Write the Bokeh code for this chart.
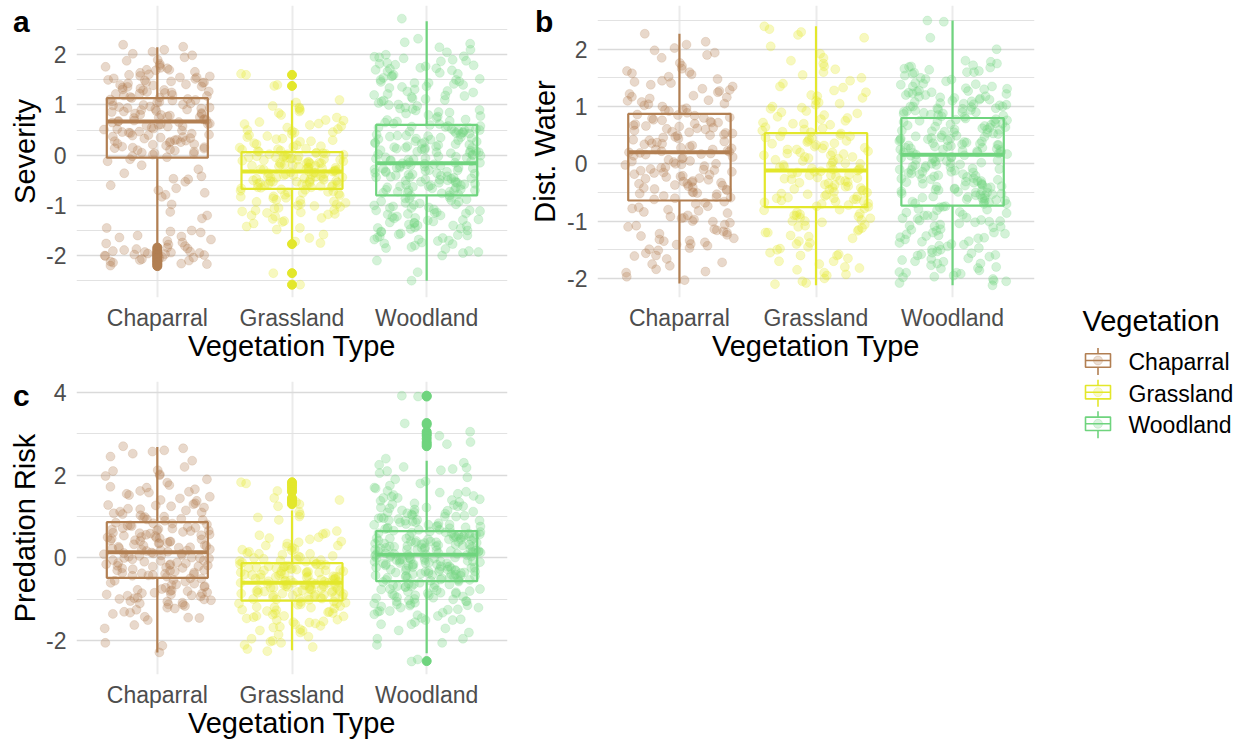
import numpy as np
from bokeh.plotting import figure
from bokeh.layouts import row, column
from bokeh.models import Range1d, FixedTicker, Label, Spacer, ColumnDataSource, Div
from bokeh.core.properties import value
from bokeh.embed import file_html
from bokeh.resources import INLINE

FONT = "Liberation Sans"
categories = ["Chaparral", "Grassland", "Woodland"]
colors = ["#B27F52", "#E3E72B", "#6FD47E"]
x_title = "Vegetation Type"
legend_title = "Vegetation"
panel_tags = ["a", "b", "c"]
y_titles = ["Severity", "Dist. Water", "Predation Risk"]

# ---------------- panel a: Severity ----------------
sev_chap = [2.2, 2.16, 2.1, 2.06, 2.02, 1.99, 1.95, 1.9, 1.82, 1.79, 1.76, 1.73, 1.7, 1.7, 1.66, 1.64, 1.61, 1.6, 1.57, 1.55,
            1.55, 1.52, 1.5, 1.47, 1.45, 1.43, 1.41, 1.4, 1.37, 1.35, 1.33, 1.3, 1.29, 1.26, 1.24, 1.22, 1.2, 1.18, 1.16, 1.14,
            1.12, 1.1, 1.09, 1.07, 1.05, 1.03, 1.01, 0.99, 0.97, 0.95, 0.93, 0.92, 0.9, 0.88, 0.86, 0.84, 0.83, 0.81, 0.79, 0.77,
            0.75, 0.74, 0.72, 0.7, 0.68, 0.66, 0.65, 0.63, 0.61, 0.59, 0.57, 0.55, 0.53, 0.51, 0.49, 0.47, 0.45, 0.43, 0.41, 0.39,
            0.37, 0.35, 0.33, 0.31, 0.29, 0.27, 0.25, 0.23, 0.21, 0.19, 0.17, 0.15, 0.13, 0.11, 0.09, 0.07, 0.05, 0.03, 0.01, -0.02,
            -0.04, -0.12, -0.2, -0.28, -0.36, -0.42, -0.47, -0.53, -0.6, -0.66, -0.75, -0.79, -0.83, -0.98, -1.13, -1.2, -1.26, -1.45,
            -1.5, -1.54, -1.6, -1.64, -1.68, -1.71, -1.74, -1.78, -1.81, -1.84, -1.87, -1.89, -1.91, -1.93, -1.95, -1.96, -1.98, -2.0,
            -2.01, -2.03, -2.05, -2.07, -2.09, -2.12, -2.14, -2.17, -2.2,
            1.88, 1.74, 1.69, 1.58, 1.53, 1.49, 1.44, 1.39, 1.36, 1.31, 1.27, 1.23, 1.19, 1.15, 1.11, 1.06, 1.0, 0.96, 0.91, 0.87,
            0.8, 0.76, 0.71, 0.67, 0.62, 0.58, 0.52, 0.46, 0.4, 0.34, 0.28, 0.22, 0.16, 0.1, 0.04, 0.94, 0.69, 0.44, 0.36, 0.3,
            -0.08, -0.48, -0.7, -1.52, -1.62, -1.76, -1.86, -1.94, -1.99, -2.04, -2.1, -2.16, -1.92, -1.97, 1.45, 1.25, 0.6, 0.82,
            0.26, 0.14]
sev_grass = [1.62, 1.6, 1.4, 1.38, 1.1, 1.05, 0.95, 0.93, 0.9, 0.87, 0.84, 0.75, 0.7, 0.66, 0.63, 0.6, 0.58, 0.55, 0.52, 0.48,
             0.45, 0.42, 0.4, 0.36, 0.33, 0.3, 0.27, 0.24, 0.2, 0.18, 0.15, 0.13, 0.11, 0.09, 0.07,
             0.05, 0.04, 0.03, 0.02, 0.0, -0.01, -0.03, -0.04, -0.06, -0.07, -0.09, -0.1, -0.12, -0.13, -0.15, -0.16, -0.18, -0.19,
             -0.21, -0.22, -0.24, -0.25, -0.27, -0.28, -0.3, -0.31, -0.33, -0.34, -0.36, -0.37, -0.39, -0.4, -0.42, -0.43, -0.45,
             -0.46, -0.48, -0.49, -0.51, -0.52, -0.54, -0.55, -0.57, -0.58, -0.6, -0.61, -0.63, -0.64, -0.66, 0.01, -0.08, -0.2,
             -0.32, -0.44, -0.53, -0.62, -0.26, -0.5, -0.14, -0.38,
             -0.69, -0.71, -0.74, -0.77, -0.8, -0.83, -0.86, -0.89, -0.92, -0.95, -0.98, -1.0, -1.03, -1.06, -1.09, -1.12, -1.15,
             -1.18, -1.22, -1.27, -1.31, -1.36, -1.42, -1.48, -1.58, -1.65, -1.72, -1.75, -2.35, -2.58, -0.75, -0.9, -1.05, -1.2,
             0.98, 0.8, 0.62, 0.5, 0.38, 0.28, 0.22, 0.17, 0.12, 0.08, 0.04, 0.02, -0.02, -0.05, -0.11, -0.17, -0.23, -0.29,
             -0.35, -0.41, -0.47, -0.53, -0.59, -0.65, -0.04, -0.16, -0.28, -0.4, -0.52, -0.64, -0.09, -0.21, -0.33, -0.45,
             -0.57, -0.68, -0.72, -0.79, -0.85, -0.93, -1.01, -1.1, -1.17, -1.25, -1.33, -1.45, -0.73, -0.82, -0.97, -1.14,
             -0.02, 0.32, 0.46, 0.69, -0.6, -0.35, -0.15, -0.55, -0.25, -0.45]
sev_wood = [2.72, 2.32, 2.25, 2.22, 2.15, 2.1, 2.05, 2.0, 1.97, 1.95, 1.93, 1.9, 1.87, 1.84, 1.82, 1.8, 1.77, 1.74, 1.72, 1.7,
            1.67, 1.64, 1.62, 1.6, 1.57, 1.54, 1.52, 1.5, 1.47, 1.44, 1.42, 1.4, 1.37, 1.34, 1.31, 1.28, 1.25, 1.22, 1.19, 1.16,
            1.13, 1.1, 1.07, 1.04, 1.01, 0.98, 0.95, 0.92, 0.89, 0.86, 0.83, 0.8, 0.77, 0.74, 0.71, 0.68, 0.65, 0.62,
            0.6, 0.58, 0.57, 0.55, 0.54, 0.52, 0.5, 0.49, 0.47, 0.46, 0.44, 0.42, 0.41, 0.39, 0.38, 0.36, 0.34, 0.33, 0.31, 0.3,
            0.28, 0.26, 0.25, 0.23, 0.22, 0.2, 0.18, 0.17, 0.15, 0.14, 0.12, 0.1, 0.09, 0.07, 0.06, 0.04, 0.02, 0.01, -0.01, -0.02,
            -0.04, -0.06, -0.07, -0.09, -0.1, -0.12, -0.14, -0.15, -0.17, -0.18, -0.2, -0.22, -0.23, -0.25, -0.26, -0.28, -0.3,
            -0.31, -0.33, -0.34, -0.36, -0.38, -0.39, -0.41, -0.42, -0.44, -0.46, -0.47, -0.49, -0.5, -0.52, -0.54, -0.55, -0.57,
            -0.58, -0.6, -0.62, -0.63, -0.65, -0.66, -0.68, -0.7, -0.71, -0.73, -0.74, -0.76, -0.78, 0.35, 0.05, -0.25, -0.55,
            0.45, -0.15, -0.45, 0.15, -0.35,
            -0.81, -0.84, -0.87, -0.9, -0.93, -0.96, -0.99, -1.02, -1.05, -1.08, -1.11, -1.14, -1.17, -1.2, -1.23, -1.26, -1.29,
            -1.32, -1.35, -1.38, -1.41, -1.44, -1.47, -1.5, -1.53, -1.56, -1.59, -1.62, -1.65, -1.68, -1.71, -1.74, -1.77, -1.8,
            -1.83, -1.87, -1.91, -1.95, -2.0, -2.1, -2.33, -2.5, -0.95, -1.1, -1.25, -1.4, -1.0, -1.15, -1.3, -1.45, -0.88, -1.6,
            1.96, 1.88, 1.79, 1.69, 1.58, 1.46, 1.36, 1.27, 1.18, 1.09, 1.0, 0.93, 0.85, 0.78, 0.7, 0.63, 0.56, 0.5, 0.43, 0.37,
            0.32, 0.27, 0.21, 0.16, 0.11, 0.06, 0.0, -0.05, -0.11, -0.16, -0.21, -0.27, -0.32, -0.37, -0.43, -0.48, -0.53, -0.59,
            -0.64, -0.69, -0.75, -0.8, -0.86, -0.92, -0.98, -1.04, -1.1, -1.16, -1.22, -1.28, -1.34, -1.4, -1.46, -1.52, -1.58,
            -1.64, -1.7, -1.76, -1.85, -1.93, 0.24, 0.13, -0.08, -0.19, -0.4, -0.51, 0.48, 0.52, -0.6, -0.7, 0.9, 1.2, 1.5,
            -1.35, -1.05, 0.67, -0.25, -0.44, 0.08, -0.62, 1.73, 1.44, -1.68, -1.18, 0.39, -0.03, -0.3, -0.73, 0.58, 1.12]
sev_q1 = [-0.05, -0.67, -0.80]
sev_med = [0.67, -0.325, -0.16]
sev_q3 = [1.135, 0.06, 0.605]
sev_lo = [-1.80, -1.72, -2.50]
sev_hi = [2.15, 1.09, 2.67]
sev_out_chap = [-1.84, -1.88, -1.92, -1.95, -1.98, -2.0, -2.03, -2.06, -2.09, -2.12, -2.15, -2.18, -2.21]
sev_out_grass = [1.6, 1.38, -1.77, -2.35, -2.58]
sev_out_wood = []

# ---------------- panel b: Dist. Water ----------------
dw_chap = [2.27, 2.13, 2.08, 2.02, 1.98, 1.94, 1.9, 1.76, 1.71, 1.66, 1.62, 1.6, 1.56, 1.52, 1.48, 1.45, 1.41, 1.38, 1.35,
           1.31, 1.27, 1.25, 1.22, 1.19, 1.16, 1.14, 1.11, 1.08, 1.05, 1.02, 1.0, 0.97, 0.94, 0.92, 0.89,
           0.86, 0.84, 0.81, 0.79, 0.77, 0.74, 0.72, 0.7, 0.67, 0.65, 0.63, 0.6, 0.58, 0.56, 0.53, 0.51, 0.49, 0.46, 0.44, 0.42,
           0.39, 0.37, 0.35, 0.32, 0.3, 0.28, 0.25, 0.23, 0.21, 0.19, 0.17, 0.14, 0.12, 0.1, 0.07, 0.05, 0.03, 0.0, -0.02, -0.04,
           -0.07, -0.09, -0.11, -0.14, -0.16, -0.18, -0.21, -0.23, -0.25, -0.28, -0.3, -0.32, -0.35, -0.37, -0.39, -0.42, -0.44,
           -0.46, -0.49, -0.51, -0.53, -0.56, -0.58, -0.6, -0.62, 0.55, 0.2, -0.15, -0.33, 0.66,
           -0.66, -0.7, -0.74, -0.78, -0.82, -0.86, -0.9, -0.94, -0.97, -1.0, -1.03, -1.06, -1.1, -1.14, -1.18, -1.22, -1.26,
           -1.3, -1.34, -1.37, -1.4, -1.43, -1.47, -1.51, -1.56, -1.61, -1.66, -1.72, -1.78, -1.84, -1.9, -1.97, -2.03, -0.95, -1.35,
           1.85, 1.58, 1.43, 1.29, 1.17, 1.04, 0.95, 0.85, 0.76, 0.69, 0.61, 0.54, 0.47, 0.41, 0.34, 0.27, 0.22, 0.16, 0.09,
           0.04, -0.01, -0.06, -0.12, -0.19, -0.26, -0.31, -0.38, -0.45, -0.52, -0.59, -0.68, -0.76, -0.84, -0.92, -1.01, -1.08,
           -1.16, -1.24, -1.32, -1.41, -1.49, -1.6, -1.75, -1.88, 0.62, 0.36, 0.18, -0.22, -0.41, 0.8, 1.1, 0.5, -0.5, -1.2,
           0.0, 0.72, -0.1, 0.25, -0.35, -0.8]
dw_grass = [2.4, 2.35, 2.3, 2.25, 2.2, 1.92, 1.85, 1.75, 1.7, 1.6, 1.55, 1.5, 1.45, 1.4, 1.33, 1.28, 1.25, 1.2, 1.15, 1.1,
            1.07, 1.03, 1.0, 0.96, 0.92, 0.88, 0.85, 0.82, 0.78, 0.75, 0.72, 0.68, 0.64, 0.6, 0.56,
            0.53, 0.5, 0.48, 0.45, 0.43, 0.4, 0.38, 0.35, 0.33, 0.3, 0.28, 0.25, 0.22, 0.2, 0.17, 0.15, 0.12, 0.1, 0.07, 0.05,
            0.02, 0.0, -0.03, -0.05, -0.08, -0.1, -0.12, -0.14, -0.17, -0.19, -0.22, -0.24, -0.27, -0.29, -0.32, -0.34, -0.37,
            -0.39, -0.42, -0.44, -0.47, -0.49, -0.52, -0.54, -0.57, -0.59, -0.62, -0.64, -0.67, -0.69, -0.72, -0.74, -0.1, -0.5,
            0.25, -0.3, 0.4, -0.6, 0.05, -0.2, -0.45, 0.15, -0.08, -0.65,
            -0.78, -0.81, -0.85, -0.88, -0.92, -0.95, -0.98, -1.02, -1.06, -1.1, -1.15, -1.2, -1.25, -1.3, -1.35, -1.4, -1.45,
            -1.5, -1.55, -1.6, -1.65, -1.7, -1.75, -1.8, -1.85, -1.9, -1.95, -2.0, -2.05, -2.1, -0.9, -1.0, -1.2,
            2.05, 1.8, 1.65, 1.35, 1.18, 0.98, 0.9, 0.8, 0.7, 0.62, 0.55, 0.46, 0.36, 0.27, 0.18, 0.09, 0.01, -0.06, -0.13,
            -0.2, -0.26, -0.33, -0.4, -0.46, -0.53, -0.6, -0.66, -0.7, -0.8, -0.87, -0.94, -1.0, -1.08, -1.17, -1.27, -1.38,
            -1.48, -1.58, -1.7, -1.82, -1.93, -2.08, 0.32, 0.12, -0.15, -0.36, -0.56, 0.48, 0.2, -0.25, -0.75, -1.12, 1.05,
            0.7, -0.02, -0.42, -0.9, -1.6, 0.58, -0.62]
dw_wood = [2.5, 2.48, 2.2, 2.0, 1.8, 1.75, 1.72, 1.7, 1.68, 1.66, 1.64, 1.62, 1.6, 1.57, 1.54, 1.5, 1.47, 1.44, 1.41, 1.38,
           1.35, 1.32, 1.3, 1.28, 1.26, 1.24, 1.22, 1.2, 1.18, 1.16, 1.14, 1.12, 1.1, 1.08, 1.06, 1.04, 1.02, 1.0, 0.99, 0.97,
           0.95, 0.94, 0.92, 0.91, 0.89, 0.88, 0.86, 0.85, 0.83, 0.82, 1.25, 1.15, 1.05, 0.96, 1.35, 0.9, 1.0,
           0.79, 0.77, 0.76, 0.74, 0.73, 0.71, 0.7, 0.68, 0.66, 0.65, 0.63, 0.62, 0.6, 0.58, 0.57, 0.55, 0.54, 0.52, 0.5, 0.49,
           0.47, 0.46, 0.44, 0.42, 0.41, 0.39, 0.38, 0.36, 0.34, 0.33, 0.31, 0.3, 0.28, 0.26, 0.25, 0.23, 0.22, 0.2, 0.18, 0.17,
           0.15, 0.14, 0.12, 0.1, 0.09, 0.07, 0.06, 0.04, 0.02, 0.01, -0.01, -0.02, -0.04, -0.06, -0.07, -0.09, -0.1, -0.12,
           -0.14, -0.15, -0.17, -0.18, -0.2, -0.22, -0.23, -0.25, -0.26, -0.28, -0.3, -0.31, -0.33, -0.34, -0.36, -0.38, -0.39,
           -0.41, -0.42, -0.44, -0.46, -0.47, -0.49, -0.5, -0.52, -0.54, -0.55, -0.57, -0.58, -0.6, -0.62, -0.63, -0.65, -0.66,
           -0.68, -0.7, 0.35, 0.45, 0.25, -0.4, -0.5, 0.3, 0.2, -0.55,
           -0.74, -0.76, -0.79, -0.81, -0.84, -0.86, -0.89, -0.91, -0.94, -0.96, -0.99, -1.01, -1.04, -1.06, -1.09, -1.11,
           -1.14, -1.17, -1.2, -1.23, -1.26, -1.29, -1.32, -1.35, -1.38, -1.41, -1.44, -1.47, -1.5, -1.53, -1.56, -1.59, -1.62,
           -1.65, -1.68, -1.71, -1.74, -1.77, -1.8, -1.83, -1.86, -1.89, -1.92, -1.95, -1.98, -2.01, -2.04, -2.08, -2.12, -1.0,
           -1.3, -1.6, -1.9, -0.9, -1.2,
           1.78, 1.69, 1.59, 1.48, 1.39, 1.31, 1.23, 1.17, 1.09, 1.03, 0.97, 0.93, 0.87, 0.84, 0.78, 0.75, 0.69, 0.64, 0.59,
           0.53, 0.48, 0.43, 0.37, 0.32, 0.27, 0.21, 0.16, 0.11, 0.05, 0.0, -0.05, -0.11, -0.16, -0.21, -0.27, -0.32, -0.37,
           -0.43, -0.48, -0.53, -0.59, -0.64, -0.69, -0.75, -0.8, -0.85, -0.9, -0.95, -1.02, -1.08, -1.15, -1.22, -1.28, -1.36,
           -1.43, -1.5, -1.58, -1.66, -1.74, -1.82, -1.9, -1.97, -2.05, 0.4, 0.28, 0.12, -0.02, -0.14, -0.26, -0.45, 1.0, 1.2,
           0.9, 0.6, 0.56, 0.19, -0.35, -0.6, -0.7, 1.4, 1.6, -1.4, -1.7, -1.25, 0.24, 0.44, -0.18, -0.52, 0.74, 0.08, 1.27,
           -0.66, -1.1, -1.55, 0.33, -0.08, 0.67, -0.3, 1.12, -0.98]
dw_q1 = [-0.64, -0.757, -0.73]
dw_med = [0.20, -0.117, 0.16]
dw_q3 = [0.87, 0.535, 0.80]
dw_lo = [-2.09, -2.12, -2.12]
dw_hi = [2.27, 2.40, 2.50]
dw_out_chap = []
dw_out_grass = []
dw_out_wood = []

# ---------------- panel c: Predation Risk ----------------
pr_chap = [2.7, 2.65, 2.6, 2.57, 2.52, 2.35, 2.2, 2.12, 2.02, 2.0, 1.98, 1.82, 1.76, 1.7, 1.66, 1.62, 1.58, 1.52, 1.48, 1.44,
           1.38, 1.32, 1.28, 1.25, 1.22, 1.19, 1.15, 1.12, 1.1, 1.06, 1.03, 1.0, 0.97, 0.93, 0.9,
           0.85, 0.83, 0.81, 0.79, 0.77, 0.75, 0.73, 0.71, 0.69, 0.67, 0.65, 0.63, 0.61, 0.59, 0.57, 0.55, 0.53, 0.51, 0.49,
           0.47, 0.45, 0.43, 0.41, 0.39, 0.37, 0.35, 0.33, 0.31, 0.29, 0.27, 0.25, 0.23, 0.21, 0.19, 0.17, 0.15, 0.13, 0.11,
           0.09, 0.07, 0.05, 0.03, 0.01, -0.01, -0.03, -0.05, -0.07, -0.09, -0.11, -0.13, -0.15, -0.17, -0.19, -0.21, -0.23,
           -0.25, -0.27, -0.29, -0.31, -0.33, -0.35, -0.37, -0.39, -0.41, -0.43, -0.45, 0.5, 0.2, -0.2, 0.0,
           -0.5, -0.53, -0.57, -0.6, -0.64, -0.68, -0.72, -0.75, -0.78, -0.8, -0.83, -0.86, -0.88, -0.9, -0.93, -0.96, -0.99,
           -1.02, -1.05, -1.08, -1.12, -1.16, -1.2, -1.25, -1.3, -1.35, -1.42, -1.45, -1.5, -1.62, -1.7, -2.05, -2.12, -2.28,
           -0.85, -1.1,
           2.45, 2.1, 1.9, 1.72, 1.55, 1.4, 1.27, 1.18, 1.08, 0.99, 0.92, 0.84, 0.78, 0.72, 0.66, 0.6, 0.54, 0.48, 0.42, 0.36,
           0.3, 0.24, 0.18, 0.12, 0.06, 0.0, -0.06, -0.12, -0.18, -0.24, -0.3, -0.36, -0.42, -0.49, -0.55, -0.62, -0.7, -0.77,
           -0.84, -0.91, -0.97, -1.04, -1.13, -1.22, -1.32, -1.44, 0.7, 0.4, 0.1, -0.15, -0.8, -0.88, -1.0, 1.3, 1.6, 0.95,
           0.26, -0.38, 0.56, -0.65]
pr_grass = [1.83, 1.8, 1.62, 1.45, 1.4, 1.35, 1.3, 1.12, 1.05, 1.0, 0.92, 0.65, 0.6, 0.55, 0.5, 0.45, 0.4, 0.35, 0.3, 0.25,
            0.22, 0.18, 0.15, 0.12, 0.08, 0.05, 0.02, 0.0, -0.03, -0.05, -0.07, -0.09, -0.11, -0.06, 0.1,
            -0.14, -0.15, -0.17, -0.18, -0.2, -0.21, -0.23, -0.24, -0.26, -0.27, -0.29, -0.3, -0.32, -0.33, -0.35, -0.36, -0.38,
            -0.39, -0.41, -0.42, -0.44, -0.45, -0.47, -0.48, -0.5, -0.51, -0.53, -0.54, -0.56, -0.57, -0.59, -0.6, -0.62, -0.63,
            -0.65, -0.66, -0.68, -0.69, -0.71, -0.72, -0.74, -0.75, -0.77, -0.78, -0.8, -0.81, -0.83, -0.84, -0.86, -0.87, -0.89,
            -0.9, -0.92, -0.93, -0.95, -0.96, -0.98, -0.99, -1.01, -0.55, -0.65, -0.6, -0.7, -0.45, -0.8, -0.35, -0.9, -0.25,
            -1.05, -1.08, -1.1, -1.13, -1.16, -1.19, -1.22, -1.25, -1.28, -1.31, -1.34, -1.37, -1.4, -1.43, -1.46, -1.5, -1.53,
            -1.56, -1.6, -1.64, -1.68, -1.72, -1.76, -1.8, -1.85, -1.95, -2.0, -2.05, -2.1, -2.2, -2.25, -1.2, -1.4, -1.55,
            1.25, 0.98, 0.58, 0.48, 0.38, 0.28, 0.2, 0.1, 0.04, -0.02, -0.08, -0.16, -0.22, -0.28, -0.34, -0.4, -0.46, -0.52,
            -0.58, -0.64, -0.7, -0.76, -0.82, -0.88, -0.94, -1.0, -0.2, -0.32, -0.44, -0.56, -0.68, -0.8, -0.92, -0.5, -0.62,
            -0.74, -0.86, -0.98, -0.6, -0.72, -1.06, -1.12, -1.18, -1.26, -1.33, -1.41, -1.49, -1.58, -1.66, -1.75, -1.9, -2.02,
            -2.15, -1.1, -1.3, -0.4, -0.3, -0.15, 0.3, -0.64]
pr_wood = [3.92, 3.9, 3.25, 3.05, 2.95, 2.8, 2.75, 2.4, 2.3, 2.25, 2.2, 2.15, 2.12, 2.1, 2.05, 1.9, 1.85, 1.8, 1.75, 1.68,
           1.62, 1.58, 1.55, 1.52, 1.48, 1.45, 1.42, 1.38, 1.35, 1.32, 1.28, 1.25, 1.22, 1.2, 1.17, 1.14, 1.12, 1.1, 1.07,
           1.05, 1.03, 1.0, 0.98, 0.96, 0.94, 0.92, 0.9, 0.88, 0.86, 0.84, 0.82, 0.8, 0.78, 0.76, 0.74, 0.72, 0.7, 0.68,
           0.64, 0.63, 0.61, 0.6, 0.59, 0.57, 0.56, 0.55, 0.53, 0.52, 0.51, 0.49, 0.48, 0.47, 0.45, 0.44, 0.43, 0.41, 0.4, 0.39,
           0.37, 0.36, 0.35, 0.33, 0.32, 0.31, 0.29, 0.28, 0.27, 0.25, 0.24, 0.23, 0.21, 0.2, 0.19, 0.17, 0.16, 0.15, 0.13,
           0.12, 0.11, 0.09, 0.08, 0.07, 0.05, 0.04, 0.03, 0.01, 0.0, -0.01, -0.03, -0.04, -0.05, -0.07, -0.08, -0.09, -0.11,
           -0.12, -0.13, -0.15, -0.16, -0.17, -0.19, -0.2, -0.21, -0.23, -0.24, -0.25, -0.27, -0.28, -0.29, -0.31, -0.32,
           -0.33, -0.35, -0.36, -0.37, -0.39, -0.4, -0.41, -0.43, -0.44, -0.45, -0.47, -0.48, -0.49, -0.51, -0.52, -0.53,
           -0.54, 0.1, 0.3, -0.1, 0.5, -0.3, 0.2, 0.4, -0.2, 0.0, -0.4,
           -0.57, -0.6, -0.63, -0.66, -0.69, -0.72, -0.75, -0.78, -0.81, -0.84, -0.87, -0.9, -0.93, -0.96, -0.99, -1.02,
           -1.05, -1.08, -1.11, -1.14, -1.17, -1.2, -1.24, -1.28, -1.32, -1.36, -1.4, -1.45, -1.5, -1.55, -1.6, -1.7, -1.8,
           -1.95, -2.05, -2.1, -2.45, -2.5, -0.7, -0.8, -0.9, -1.0, -1.1, -0.65, -0.85, -1.3,
           2.18, 1.95, 1.7, 1.6, 1.5, 1.4, 1.3, 1.22, 1.15, 1.08, 1.02, 0.96, 0.91, 0.86, 0.81, 0.76, 0.71, 0.66, 0.62, 0.57,
           0.52, 0.47, 0.42, 0.37, 0.32, 0.27, 0.22, 0.17, 0.12, 0.07, 0.02, -0.03, -0.08, -0.13, -0.18, -0.23, -0.28, -0.33,
           -0.38, -0.43, -0.48, -0.53, -0.58, -0.64, -0.7, -0.76, -0.83, -0.9, -0.97, -1.04, -1.12, -1.2, -1.28, -1.38, -1.48,
           -1.6, -1.75, -1.95, 0.45, 0.35, 0.25, 0.15, 0.05, -0.05, -0.15, -0.25, -0.35, -0.45, 0.55, 0.6, -0.55, -0.62, 0.9,
           0.8, 1.0, 1.1, -0.75, -0.95, -1.05, -1.15, 0.18, -0.12, 0.38, -0.32, 0.68, 0.73, -0.68, -0.86, 1.25, 1.45, -1.25,
           -1.5, 0.28, -0.22, 0.48, -0.42, 0.1, 0.0, -0.07, 0.2]
pr_q1 = [-0.48, -1.03, -0.56]
pr_med = [0.14, -0.60, 0.08]
pr_q3 = [0.865, -0.125, 0.65]
pr_lo = [-2.28, -2.23, -2.30]
pr_hi = [2.68, 1.15, 2.35]
pr_out_chap = []
pr_out_grass = [1.83, 1.78, 1.72, 1.65, 1.6, 1.45, 1.4, 1.35, 1.3]
pr_out_wood = [3.92, 3.9, 3.26, 3.22, 3.05, 3.0, 2.95, 2.88, 2.8, 2.75, 2.7, -2.49]

GRID_H = "#DADADA"
GRID_V = "#EBEBEB"
TICK_COL = "#4D4D4D"
STRIP_W = 42
TAG_H = 45


def jitter_positions(k, n):
    # deterministic horizontal spread (visual jitter only)
    i = np.arange(n, dtype=float)
    h = np.mod(np.sin(i * 12.9898 + (k + 1) * 78.233) * 43758.5453, 1.0)
    return (k + 1) + 0.8 * (h - 0.5)


def bare(fig):
    fig.outline_line_color = None
    fig.grid.visible = False
    fig.background_fill_color = "white"
    fig.border_fill_color = "white"


def make_tag(tag, tx, pad_top):
    return Div(text=tag, width=STRIP_W, height=TAG_H, margin=0,
               styles={"font-family": FONT, "font-size": "30px", "font-weight": "bold",
                       "line-height": "30px", "color": "black",
                       "padding-left": f"{tx}px", "padding-top": f"{pad_top}px",
                       "box-sizing": "border-box", "overflow": "visible"})


def make_ytitle(height, title, bottom_border):
    """Narrow figure whose only visible part is a left axis title (rotated by Bokeh)."""
    f = figure(width=STRIP_W, height=height, x_range=Range1d(0, 1), y_range=Range1d(0, 1),
               output_backend="svg", toolbar_location=None, x_axis_location=None,
               min_border_left=STRIP_W - 1, min_border_right=0, min_border_top=0,
               min_border_bottom=bottom_border)
    bare(f)
    ax = f.yaxis[0]
    ax.ticker = FixedTicker(ticks=[])
    ax.axis_line_color = None
    ax.major_tick_line_color = None
    ax.minor_tick_line_color = None
    ax.major_tick_out = 0
    ax.major_tick_in = 0
    ax.minor_tick_out = 0
    ax.minor_tick_in = 0
    ax.major_label_standoff = 0
    ax.axis_label = title
    ax.axis_label_standoff = 1
    ax.axis_label_text_font = FONT
    ax.axis_label_text_font_size = "29px"
    ax.axis_label_text_font_style = "normal"
    ax.axis_label_text_color = "black"
    return f


def make_panel(width, height, borders, yr, yticks, yminor, groups, q1, med, q3, lo, hi, outs):
    bl, br, bt, bb = borders
    p = figure(width=width, height=height, x_range=Range1d(0.4, 3.6), y_range=Range1d(*yr),
               output_backend="svg", toolbar_location=None,
               min_border_left=bl, min_border_right=br, min_border_top=bt, min_border_bottom=bb)
    p.outline_line_color = None
    p.background_fill_color = "white"
    p.border_fill_color = "white"

    p.xaxis.ticker = FixedTicker(ticks=[1, 2, 3])
    p.xaxis.major_label_overrides = {1: categories[0], 2: categories[1], 3: categories[2]}
    p.yaxis.ticker = FixedTicker(ticks=yticks, minor_ticks=yminor)
    p.yaxis.major_label_overrides = {t: str(t) for t in yticks}
    for ax in (p.xaxis[0], p.yaxis[0]):
        ax.axis_line_color = None
        ax.major_tick_line_color = None
        ax.minor_tick_line_color = None
        ax.major_tick_out = 0
        ax.major_tick_in = 0
        ax.minor_tick_out = 0
        ax.minor_tick_in = 0
        ax.major_label_text_font = FONT
        ax.major_label_text_font_size = "23px"
        ax.major_label_text_color = TICK_COL
        ax.axis_label_text_font = FONT
        ax.axis_label_text_font_size = "29px"
        ax.axis_label_text_font_style = "normal"
        ax.axis_label_text_color = "black"
    p.xaxis.axis_label = x_title
    p.xaxis.major_label_standoff = 7
    p.xaxis.axis_label_standoff = -4
    p.yaxis.major_label_standoff = 10

    p.xgrid.grid_line_color = GRID_V
    p.xgrid.grid_line_width = 2
    p.ygrid.grid_line_color = GRID_H
    p.ygrid.grid_line_width = 1.3
    p.ygrid.minor_grid_line_color = "#E2E2E2"
    p.ygrid.minor_grid_line_width = 1.1

    for k, vals in enumerate(groups):
        src = ColumnDataSource(dict(x=jitter_positions(k, len(vals)), y=vals))
        p.scatter("x", "y", source=src, size=9, fill_color=colors[k], line_color=colors[k],
                  fill_alpha=0.3, line_alpha=0.3, line_width=0.6)

    xs = np.array([1, 2, 3], dtype=float)
    bsrc = ColumnDataSource(dict(x=xs, x0=xs - 0.375, x1=xs + 0.375, q1=q1, med=med, q3=q3,
                                 lo=lo, hi=hi, color=colors))
    p.segment(x0="x", x1="x", y0="q3", y1="hi", line_color="color", line_width=2.2, source=bsrc)
    p.segment(x0="x", x1="x", y0="lo", y1="q1", line_color="color", line_width=2.2, source=bsrc)
    p.vbar(x="x", width=0.75, bottom="q1", top="q3", fill_color=None, line_color="color",
           line_width=2.2, source=bsrc)
    p.segment(x0="x0", x1="x1", y0="med", y1="med", line_color="color", line_width=4, source=bsrc)

    for k, ov in enumerate(outs):
        if len(ov):
            osrc = ColumnDataSource(dict(x=[k + 1] * len(ov), y=ov))
            p.scatter("x", "y", source=osrc, size=9, fill_color=colors[k], line_color=colors[k])
    return p


pa = make_panel(520 - STRIP_W, 370, (76 - STRIP_W, 13, 5, 73), (-2.835, 2.982), [-2, -1, 0, 1, 2],
                [-2.5, -1.5, -0.5, 0.5, 1.5, 2.5],
                [sev_chap, sev_grass, sev_wood], sev_q1, sev_med, sev_q3, sev_lo, sev_hi,
                [sev_out_chap, sev_out_grass, sev_out_wood])
pb = make_panel(540 - STRIP_W, 370, (77 - STRIP_W, 26, 5, 73), (-2.333, 2.763), [-2, -1, 0, 1, 2],
                [-1.5, -0.5, 0.5, 1.5, 2.5],
                [dw_chap, dw_grass, dw_wood], dw_q1, dw_med, dw_q3, dw_lo, dw_hi,
                [dw_out_chap, dw_out_grass, dw_out_wood])
pc = make_panel(520 - STRIP_W, 372, (76 - STRIP_W, 13, 11, 68), (-2.814, 4.263), [-2, 0, 2, 4],
                [-1, 1, 3],
                [pr_chap, pr_grass, pr_wood], pr_q1, pr_med, pr_q3, pr_lo, pr_hi,
                [pr_out_chap, pr_out_grass, pr_out_wood])

# left strips: panel tag on top, y-axis title below (title centred on each panel's plotting area)
strip_a = column(make_tag(panel_tags[0], 13, 7), make_ytitle(370 - TAG_H, y_titles[0], 113))
strip_b = column(make_tag(panel_tags[1], 15, 7), make_ytitle(370 - TAG_H, y_titles[1], 113))
strip_c = column(make_tag(panel_tags[2], 13, 11), make_ytitle(372 - TAG_H, y_titles[2], 102))

pl = figure(width=185, height=742, x_range=Range1d(0, 185), y_range=Range1d(742, 0),
            output_backend="svg", toolbar_location=None, x_axis_location=None, y_axis_location=None,
            min_border=0)
bare(pl)
key_y = [360.0, 391.7, 423.3]
lsrc = ColumnDataSource(dict(y=key_y, ytop=[v - 6.7 for v in key_y], ybot=[v + 6.7 for v in key_y],
                             wt=[v - 12.5 for v in key_y], wb=[v + 14.5 for v in key_y],
                             ty=[v + 1.5 for v in key_y], color=colors, label=categories))
pl.segment(x0=37.5, x1=37.5, y0="wt", y1="ytop", line_color="color", line_width=1.6, source=lsrc)
pl.segment(x0=37.5, x1=37.5, y0="ybot", y1="wb", line_color="color", line_width=1.6, source=lsrc)
pl.quad(left=25, right=50, top="ytop", bottom="ybot", fill_color=None, line_color="color",
        line_width=1.6, source=lsrc)
pl.segment(x0=25, x1=50, y0="y", y1="y", line_color="color", line_width=1.6, source=lsrc)
pl.scatter(x=37.5, y="y", size=9, fill_color="color", line_color="color", fill_alpha=0.25,
           line_alpha=0.25, source=lsrc)
pl.text(x=68, y="ty", text="label", text_font=value(FONT), text_font_size="23px",
        text_baseline="middle", text_color="black", source=lsrc)
pl.add_layout(Label(x=22, y=320, text=legend_title, text_font=FONT, text_font_size="29px",
                    text_baseline="middle", text_color="black"))

layout = row(column(row(strip_a, pa), row(strip_c, pc)),
             column(row(strip_b, pb), Spacer(width=540, height=372)),
             pl)

with open("out.html", "w") as f:
    f.write(file_html(layout, INLINE))
